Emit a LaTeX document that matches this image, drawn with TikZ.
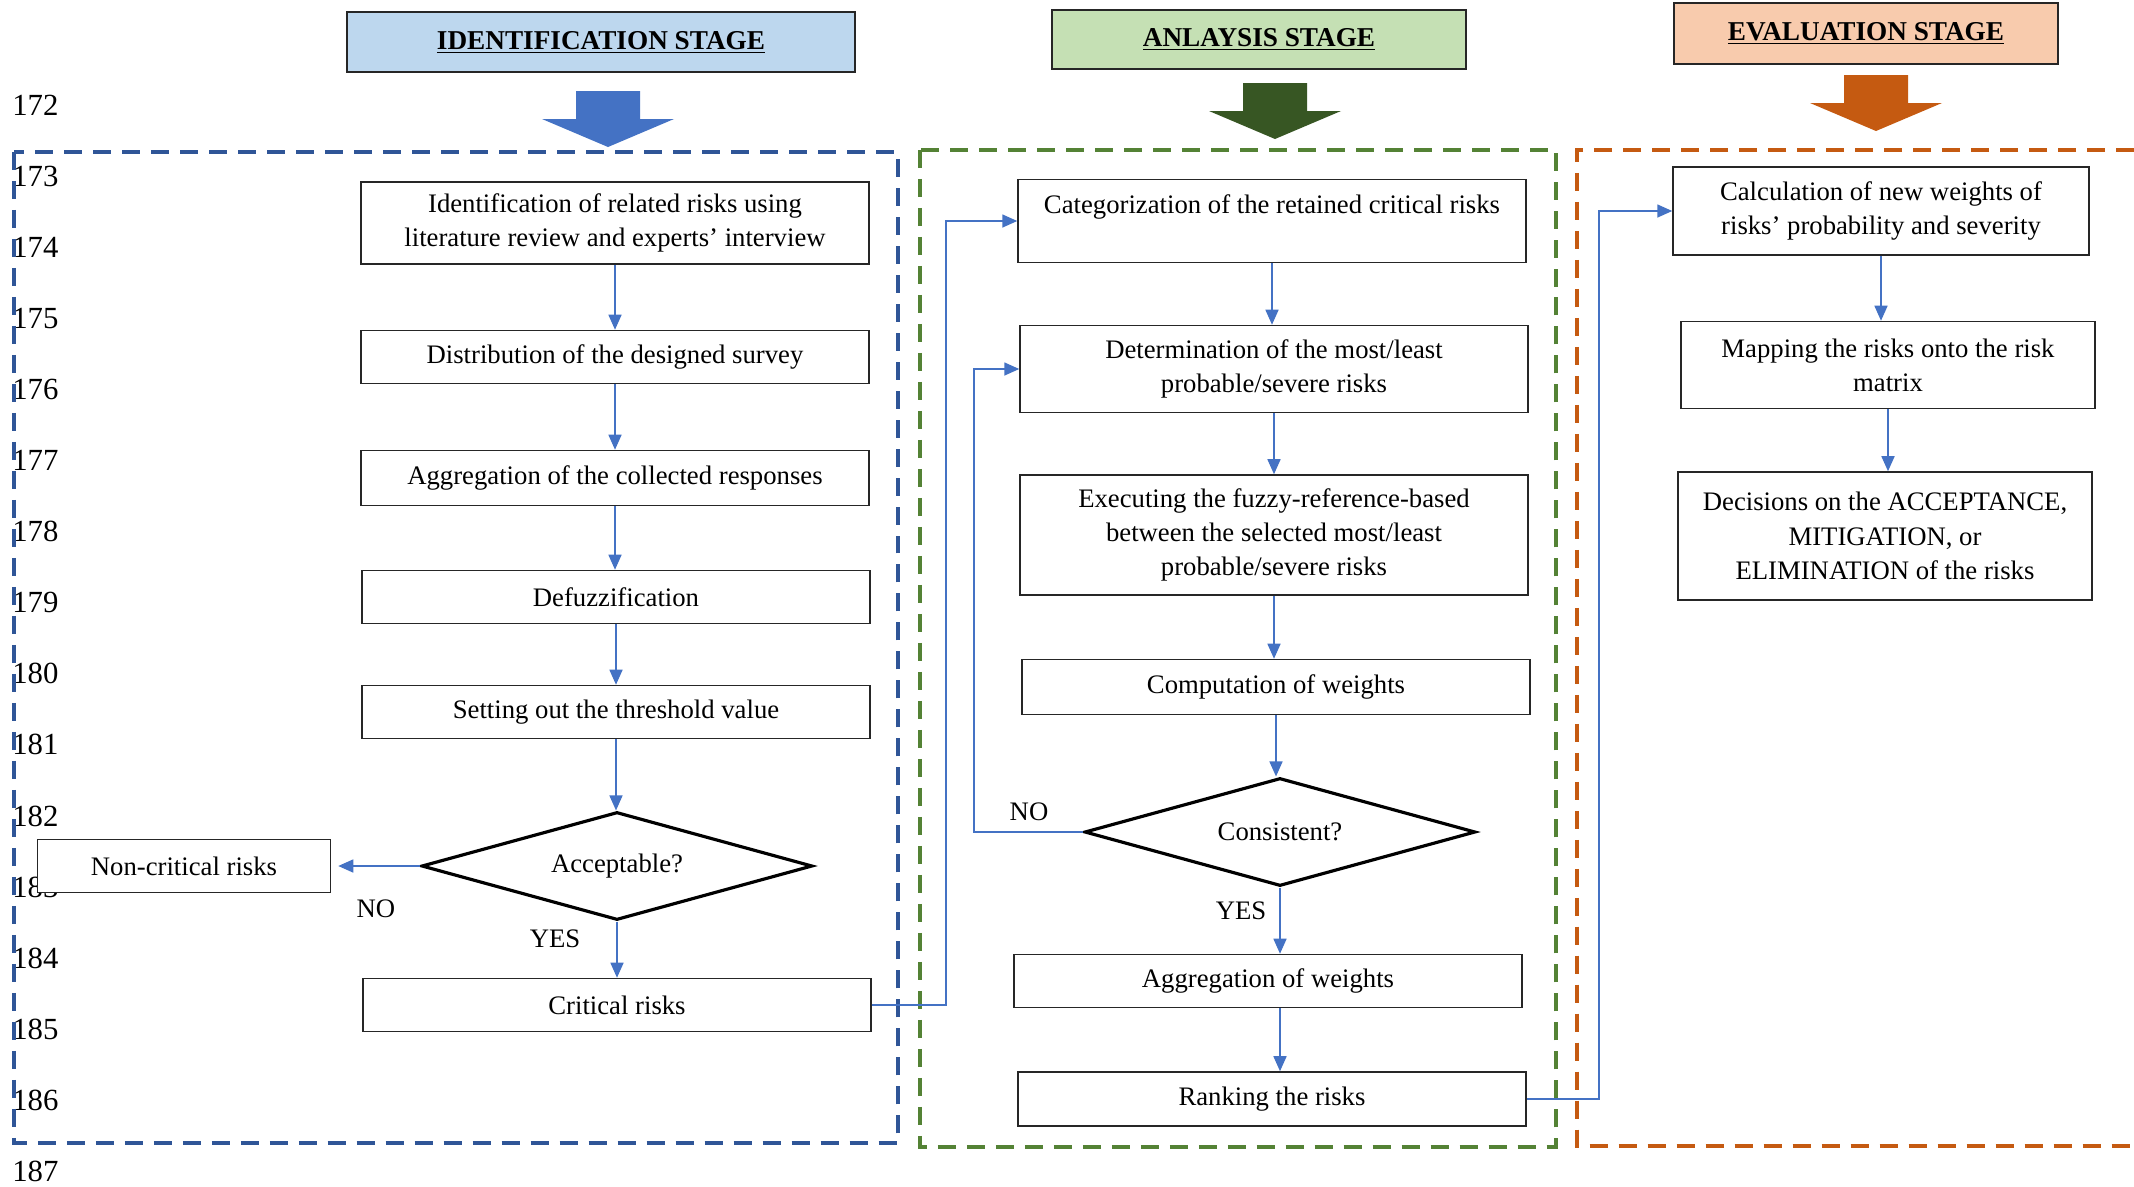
\documentclass[tikz,border=0pt]{standalone}
\usepackage{fontspec}
\setmainfont{Liberation Serif}
\usepackage{tikz}
\usetikzlibrary{arrows.meta}
\usetikzlibrary{shapes.geometric}
\usetikzlibrary{positioning}

\definecolor{idFill}{HTML}{BDD7EE}
\definecolor{anFill}{HTML}{C5E0B4}
\definecolor{evFill}{HTML}{F8CBAD}
\definecolor{idArrow}{HTML}{4472C4}
\definecolor{anArrow}{HTML}{375623}
\definecolor{evArrow}{HTML}{C55A11}
\definecolor{idDash}{HTML}{2F5597}
\definecolor{anDash}{HTML}{548235}
\definecolor{evDash}{HTML}{C55A11}
\definecolor{connBlue}{HTML}{4472C4}

\newcommand{\boxfont}{\fontsize{15.2}{19.5}\selectfont}

\tikzset{
  box/.style={draw=black!85, line width=0.9pt, fill=white, align=center, inner sep=0pt,
    minimum width=10.16cm, minimum height=1.06cm, font=\boxfont},
  decision/.style={diamond, aspect=3.6, draw=black, line width=1.8pt, fill=white, inner sep=0pt,
    minimum width=7.82cm, minimum height=2.16cm, font=\boxfont},
  conn/.style={draw=connBlue, line width=0.9pt, -{Triangle[width=0.26cm,length=0.3cm]}},
  header/.style={draw=black!85, line width=1pt, inner sep=0pt,
    font=\fontsize{15.5}{18}\selectfont\bfseries},
  stage/.style={line width=2.3pt, dash pattern=on 0.36cm off 0.22cm},
  lineno/.style={anchor=west, inner sep=0pt, font=\fontsize{17.5}{17.5}\selectfont},
  answer/.style={inner sep=0pt, font=\boxfont}
}

\begin{document}
\begin{tikzpicture}[x=0.02cm, y=-0.02cm]
\path[use as bounding box, fill=white] (0,0) rectangle (2134,1187);

% line numbers of the page
\foreach \n [count=\i from 0] in {172,...,187}
  \node[lineno] (ln\n) at (12,{105+71.1*\i}) {\n};

% stage headers
\node[header, fill=idFill, minimum width=10.16cm, minimum height=1.2cm]  (hid) at (601,42)   {\underline{IDENTIFICATION STAGE}};
\node[header, fill=anFill, minimum width=8.28cm, minimum height=1.18cm]  (han) at (1259,39.5) {\underline{ANLAYSIS STAGE}};
\node[header, fill=evFill, minimum width=7.68cm, minimum height=1.22cm]  (hev) at (1866,33.5) {\underline{EVALUATION STAGE}};

% big arrows below the headers
\foreach \cx/\yt/\col in {608/91/idArrow, 1275/83/anArrow, 1876/75/evArrow}
  \fill[\col] (\cx-32,\yt) -- (\cx+32,\yt) -- (\cx+32,\yt+28) -- (\cx+66,\yt+28)
    -- (\cx,\yt+56) -- (\cx-66,\yt+28) -- (\cx-32,\yt+28) -- cycle;

% stage frames
\draw[stage, idDash] (14,152) rectangle (898,1143);
\draw[stage, anDash] (920,150) rectangle (1556,1147);
\draw[stage, evDash] (2134,150) -- (1577,150) -- (1577,1146) -- (2134,1146);

% identification stage
\node[box, minimum height=1.64cm] (b1) at (615,223) {Identification of related risks using\\literature review and experts’ interview};
\node[box]                        (b2) at (615,357) {Distribution of the designed survey};
\node[box, minimum height=1.1cm]  (b3) at (615,478) {Aggregation of the collected responses};
\node[box]                        (b4) at (616,597) {Defuzzification};
\node[box]                        (b5) at (616,712) {Setting out the threshold value};
\node[decision]                   (d1) at (617,866) {Acceptable?};
\node[box, minimum width=5.86cm]  (nc) at (184,866) {Non-critical risks};
\node[box]                        (cr) at (617,1005) {Critical risks};
\node[answer] (no1)  at (376,909) {NO};
\node[answer] (yes1) at (555,939) {YES};

% analysis stage
\node[box, minimum height=1.66cm] (c1) at (1272,221) {Categorization of the retained critical risks\\\mbox{}};
\node[box, minimum height=1.74cm] (c2) at (1274,369) {Determination of the most/least\\probable/severe risks};
\node[box, minimum height=2.4cm]  (c3) at (1274,535) {Executing the fuzzy-reference-based\\between the selected most/least\\probable/severe risks};
\node[box, minimum height=1.1cm]  (c4) at (1276,687) {Computation of weights};
\node[decision]                   (d2) at (1280,832) {Consistent?};
\node[box]                        (c5) at (1268,981) {Aggregation of weights};
\node[box, minimum height=1.08cm] (c6) at (1272,1099) {Ranking the risks};
\node[answer] (no2)  at (1029,812) {NO};
\node[answer] (yes2) at (1241,911) {YES};

% evaluation stage
\node[box, minimum width=8.32cm, minimum height=1.76cm] (e1) at (1881,211) {Calculation of new weights of\\risks’ probability and severity};
\node[box, minimum width=8.28cm, minimum height=1.74cm] (e2) at (1888,365) {Mapping the risks onto the risk\\matrix};
\node[box, minimum width=8.28cm, minimum height=2.56cm] (e3) at (1885,536) {Decisions on the ACCEPTANCE,\\MITIGATION, or\\ELIMINATION of the risks};

% bend points of the long connectors
\coordinate (bendA) at (946,0);
\coordinate (bendB) at (974,0);
\coordinate (bendC) at (1599,0);

% connectors
\draw[conn] (b1.south) -- (b1.south |- b2.north);
\draw[conn] (b2.south) -- (b2.south |- b3.north);
\draw[conn] (b3.south) -- (b3.south |- b4.north);
\draw[conn] (b4.south) -- (b4.south |- b5.north);
\draw[conn] (b5.south) -- (b5.south |- d1.north);
\draw[conn, shorten >=0.14cm] (d1.west) -- (nc.east);
\draw[conn] (d1.south) -- (d1.south |- cr.north);
\draw[conn] (cr.east) -| (bendA |- c1.west) -- (c1.west);

\draw[conn] (c1.south) -- (c1.south |- c2.north);
\draw[conn] (c2.south) -- (c2.south |- c3.north);
\draw[conn] (c3.south) -- (c3.south |- c4.north);
\draw[conn] (c4.south) -- (c4.south |- d2.north);
\draw[conn] (d2.west) -| (bendB |- c2.west) -- (c2.west);
\draw[conn] (d2.south) -- (d2.south |- c5.north);
\draw[conn] (d2.south |- c5.south) -- (d2.south |- c6.north);
\draw[conn] (c6.east) -| (bendC |- e1.west) -- (e1.west);

\draw[conn] (e1.south) -- (e1.south |- e2.north);
\draw[conn] (e2.south) -- (e2.south |- e3.north);
\end{tikzpicture}
\end{document}
